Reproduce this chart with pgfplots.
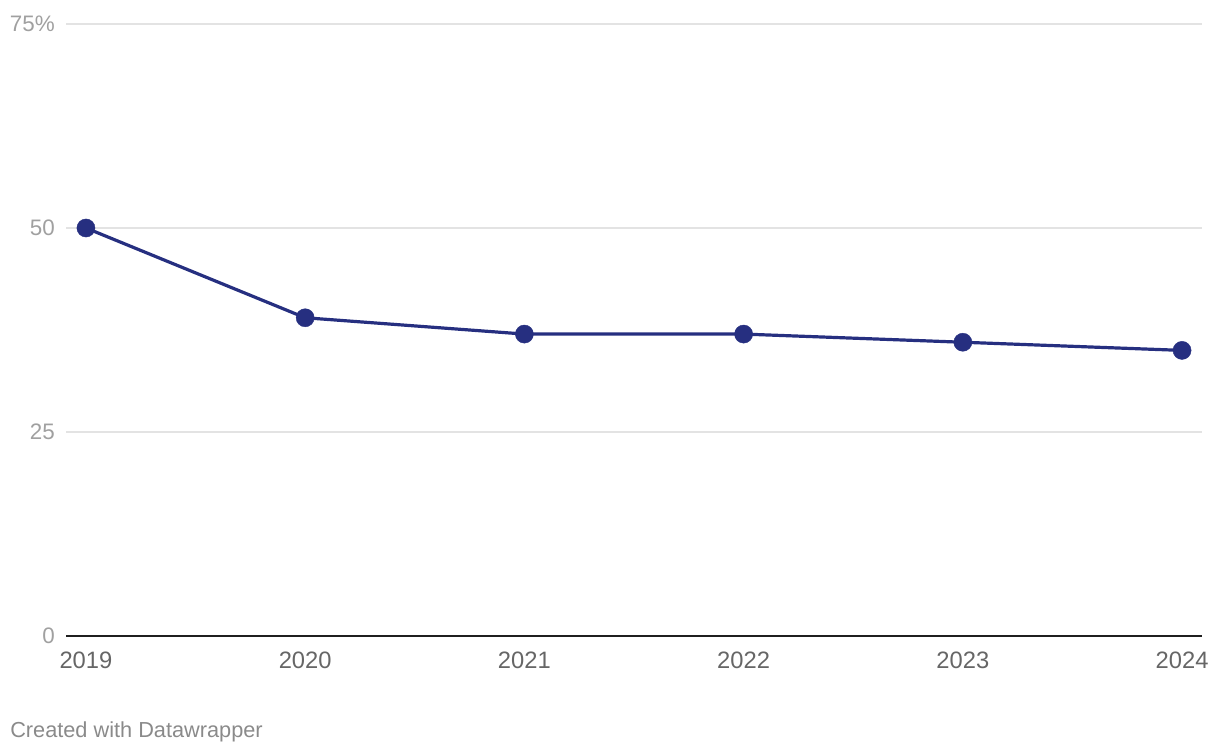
\documentclass[border=0pt]{standalone}
\usepackage{pgfplots}
\pgfplotsset{compat=1.18}
\usepackage{fontspec}
\setmainfont{Liberation Sans}
\definecolor{navy}{HTML}{262F80}
\definecolor{gridc}{HTML}{E3E3E3}
\definecolor{ylab}{HTML}{A0A0A0}
\definecolor{xlab}{HTML}{666666}
\definecolor{credit}{HTML}{8A8A8A}
\begin{document}
\begin{tikzpicture}
\path[use as bounding box] (0,0) rectangle (915pt,565.5pt);
\begin{axis}[
  at={(49.5pt,88.5pt)}, anchor=south west,
  scale only axis, width=852pt, height=459pt,
  xmin=2018.909, xmax=2024.091,
  ymin=0, ymax=75,
  axis line style={draw=none},
  major tick length=0pt,
  xtick={2019,2020,2021,2022,2023,2024},
  xticklabels={2019,2020,2021,2022,2023,2024},
  ytick={0,25,50,75},
  yticklabels={0,25,50,75\%},
  ymajorgrids, grid style={gridc, line width=1pt},
  /pgf/number format/assume math mode=true,
  xticklabel style={font=\fontsize{17.8pt}{20pt}\selectfont, text=xlab, anchor=north, inner sep=0pt, yshift=-12pt},
  yticklabel style={font=\fontsize{16.8pt}{20pt}\selectfont, text=ylab, anchor=east, inner sep=0pt, xshift=-8.25pt},
  clip=false,
]
\draw[line width=1.4pt, color=black!88] (rel axis cs:0,0) -- (rel axis cs:1,0);
\addplot[navy, line width=2.4pt, mark=*, mark size=6.8pt, mark options={fill=navy, draw=navy, line width=0.3pt}] coordinates {
(2019,50) (2020,39) (2021,37) (2022,37) (2023,36) (2024,35)
};
\end{axis}
\node[anchor=base west, inner sep=0pt, text=credit, font=\fontsize{16.3pt}{18pt}\selectfont] at (7.5pt,12.75pt) {Created with Datawrapper};
\end{tikzpicture}
\end{document}
